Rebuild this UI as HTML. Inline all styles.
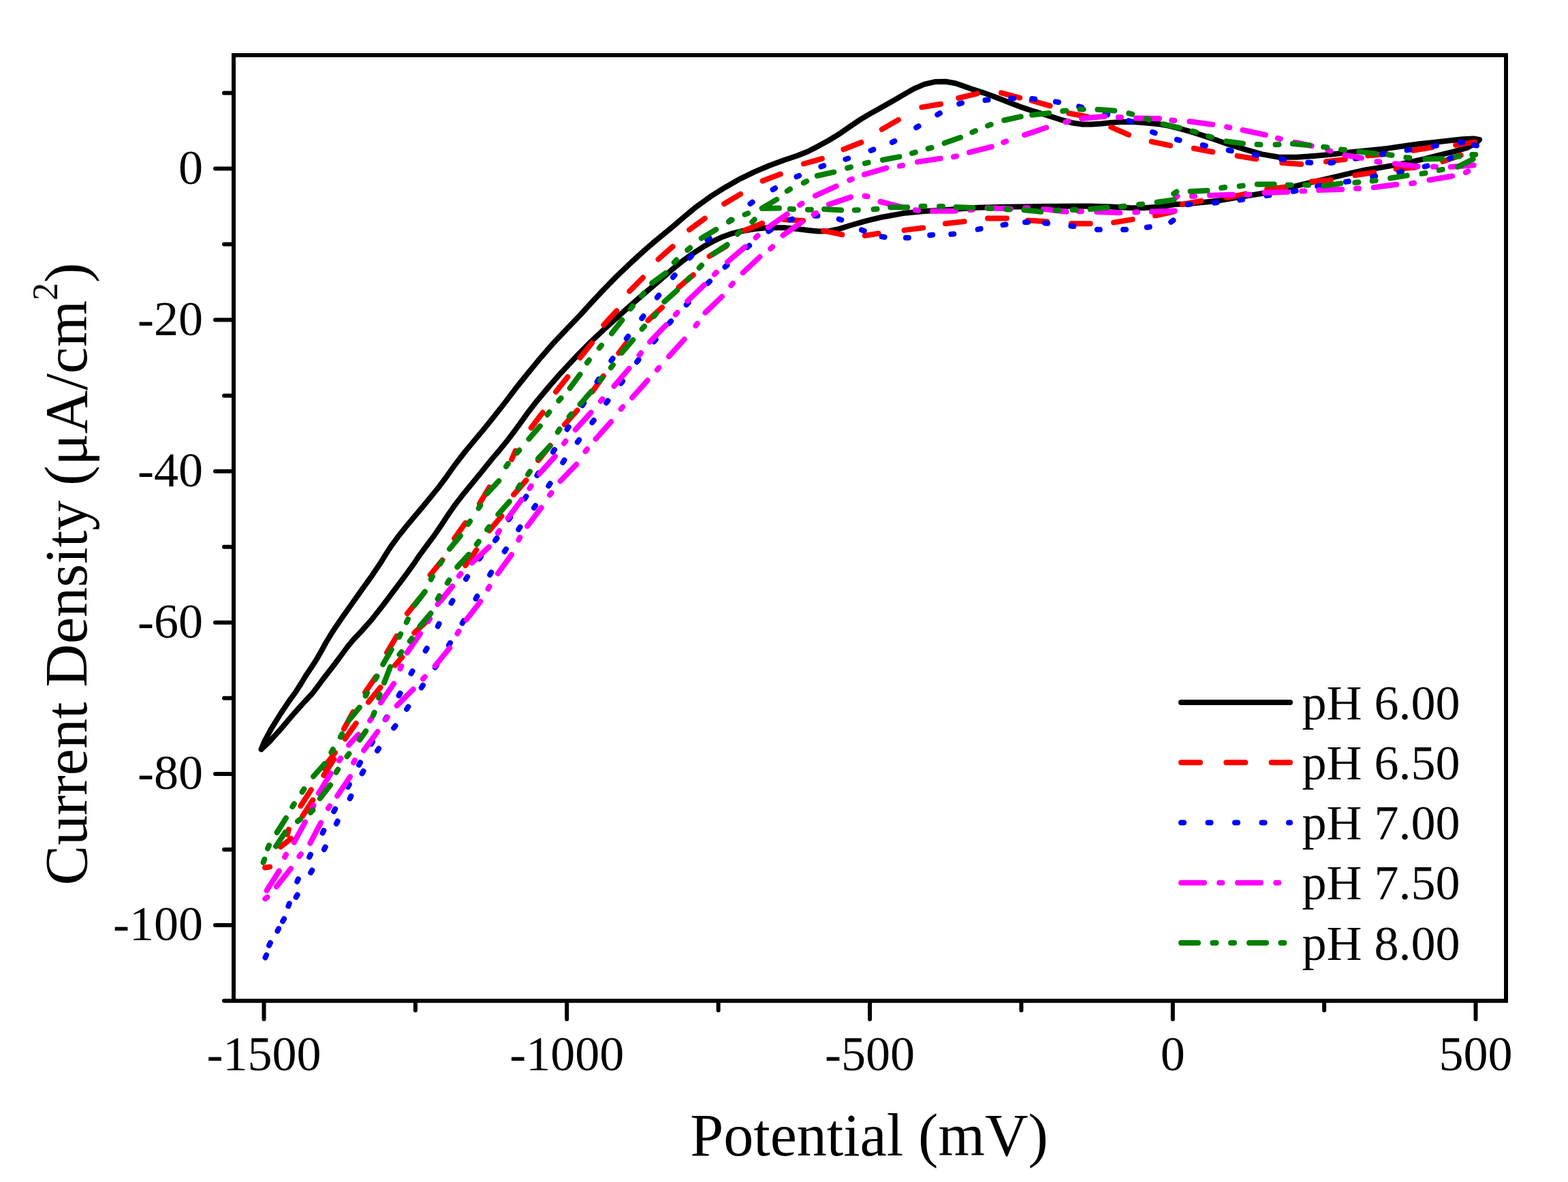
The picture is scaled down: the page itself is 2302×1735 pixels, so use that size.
<!DOCTYPE html><html><head><meta charset="utf-8"><title>Cyclic voltammograms</title>
<style>html,body{margin:0;padding:0;background:#fff;}body{width:2302px;height:1735px;overflow:hidden;}svg{display:block;}text{font-family:"Liberation Serif","Times New Roman",serif;fill:#000;}</style></head><body>
<svg width="2302" height="1735" viewBox="0 0 2302 1735">
<rect x="0" y="0" width="2302" height="1735" fill="#fff"/>
<g fill="none" stroke-width="8" stroke-linecap="round" stroke-linejoin="round">
<path d="M383.5,1099.8 L388.4,1087.9 L398.3,1069.6 L411.7,1048 L424.3,1029.2 L434.2,1015.6 L441.6,1004 L448.8,992 L456.9,980 L464.7,968 L471.5,956 L478.1,944 L485.3,932 L492.8,920.4 L502.1,906.8 L515.4,888 L530.7,866.4 L546.2,844.8 L558.5,826.6 L566.4,813.6 L574.8,800.8 L585.4,786.4 L596.9,772 L609,757.6 L621.2,743.2 L633,728.8 L644.6,714.4 L655.5,699.8 L667.2,683.2 L682.6,663.2 L698.4,644.2 L711.6,628.5 L726,610.6 L742.4,589.6 L758.8,568 L776.1,546.4 L794,524.8 L812.8,503.2 L833.5,481.6 L851.5,462.8 L866,446.8 L883.5,428 L904.5,406.4 L927.5,384.5 L947.8,366 L961.6,354.1 L974.4,343.6 L988.1,332.4 L1002.7,319.8 L1021.7,303.9 L1043.2,288.4 L1064.8,274.9 L1086.4,262.6 L1108,252.1 L1129.6,243 L1151.2,235 L1170.6,228.5 L1186.3,222.3 L1201.2,214.6 L1216.8,206 L1232.4,196.5 L1248,185.6 L1263.6,175.1 L1279.2,165.9 L1294.8,157.3 L1310.3,148.5 L1325.9,139.4 L1341.5,130.4 L1357.1,123.6 L1372.7,120.1 L1388.3,119.7 L1402.7,122.2 L1415.4,126.6 L1428.9,131.4 L1443.4,136.1 L1457.9,141.2 L1472.3,146.8 L1486.8,152.5 L1501.3,157.9 L1515.7,162.7 L1530.2,167 L1544.7,171.6 L1559.1,176.2 L1573.6,180.2 L1588.1,182.4 L1602.5,182.6 L1617,181.5 L1631.5,180 L1645.9,179 L1660.4,178.8 L1674.9,179.7 L1689.3,181.1 L1703.8,182.6 L1716.6,184.8 L1730.4,188.4 L1751.3,194.1 L1776.6,202.4 L1801.9,211.2 L1827.2,219.1 L1852.5,226.4 L1877.8,230.8 L1903.2,230.8 L1928.5,228.9 L1953.8,226.7 L1979.1,223.8 L2007,220.9 L2036.5,217.9 L2061.7,214.3 L2083.4,211.3 L2105.1,208.9 L2126.8,206.6 L2147.6,204.2 L2163.4,203.4 L2172,205 L2167,209.8 L2153.9,216.9 L2134,222.7 L2112.3,227.9 L2090.6,233.3 L2068.9,238.1 L2048.2,242.4 L2027.8,245.7 L2004.4,249.5 L1979.1,255.2 L1953.8,261.2 L1928.5,266.9 L1903.2,272.9 L1877.8,278.9 L1852.5,284 L1827.2,288.1 L1806,291.6 L1790.4,294.2 L1773.9,296.2 L1754.9,298.1 L1739.1,299.4 L1729.6,299.7 L1723.3,300.3 L1713.8,301.9 L1698,303.8 L1679,305.2 L1657.6,305 L1631.4,303.5 L1598.9,302.6 L1559.1,302.8 L1515.7,303.2 L1472.3,303.7 L1435,304.8 L1409.3,306.4 L1385.9,308.2 L1357.1,309.9 L1325.9,313.1 L1294.8,318.7 L1267.5,325.3 L1248,331 L1232.4,335.9 L1216.8,339.2 L1201.2,339.6 L1186.3,338 L1170.6,336 L1151.2,334.2 L1129.6,333.9 L1108,336.1 L1089,339.2 L1074.4,342.8 L1060.8,347.7 L1046.4,354.4 L1032,362.6 L1017.6,372 L1003.2,382.2 L988.8,393.8 L974.4,406.4 L957.5,421 L935.9,439.4 L912.1,460.4 L888.9,481.5 L866.7,502.4 L844.9,524.4 L824.4,546.4 L805.5,568 L789.1,587.6 L776.6,603.4 L766.4,617.6 L756,632 L745,646.4 L733.3,660.8 L722,674 L711,687.8 L695.7,706.6 L679,726.8 L666.5,743.2 L656.6,757.6 L647.1,772 L637.2,786.4 L626.4,800.8 L617,813.6 L608.2,826.6 L595,844.8 L578.8,866.4 L562.6,888 L545.6,909.6 L529.7,927.5 L518.5,939.3 L509.7,950 L500.9,962 L492,974 L482.7,986 L473.4,998 L465,1009.5 L457.5,1019.1 L447,1030.2 L431,1048 L412.7,1069.6 L396.1,1088 L383.5,1100" stroke="#000000"/>
<path d="M389,1273.5L396,1272.5M421.8,1225.1L423.9,1217.5M441.4,1183L456.7,1159.4M475,1127.2L491.8,1104.8M504.9,1069.9L518.3,1045.3M536,1016.3L552,993.3M568.1,957.9L582.4,933.8M598,900.6L615.6,878.7M631.7,843.8L649.4,822.2M667.1,790.4L683.3,767.6M704.1,739.3L718.3,715.2M751.2,674.3L756.8,661.7M779.8,628L796.7,605.6M816,575.2L833.4,553.3M851.5,525.2L869,503.4M886.3,476.9L905.3,456.3M924.1,427.5L943.9,407.6M966.5,380.5L987.5,361.9M1012,337.2L1034.7,320.7M1063.1,299.2L1087.1,284.9M1119.6,265.5L1145.8,255.6M1179.9,240.5L1206.8,232.9M1238.4,219.3L1264.4,209M1294.7,189.9L1318.9,175.9M1353.3,157.4L1381,152.8M1407.3,143.9L1434.6,137.3M1470,136.3L1497.1,143.5M1514.6,147.6L1541.5,155.3M1569.2,166.3L1596.8,171.4M1631.3,186.7L1657,197.9M1690.6,207.9L1718,213.6M1752.7,217.7L1780.2,223M1816.6,228.9L1844.2,233.4M1882.2,238.9L1910.2,241.1M1946.9,237.3L1974.7,233.9M2008.1,228.5L2035.9,226.1M2074.7,220.7L2102.3,216.3M2137.2,212.9L2164.9,208.6M2144.7,227.8L2118.3,237.1M2077.5,245.8L2049.5,248M2017,253.1L1989.3,257.3M1953.8,264.2L1925.9,266.4M1888,274.5L1860.1,277.7M1828.3,284.6L1800.8,290.3M1763.4,295L1735.8,299.9M1723.1,310.6L1695.8,316.5M1662.6,322.1L1635,326.6M1600.7,328.3L1572.7,328.3M1536.9,325.3L1509,323.4M1478,320.4L1450,320.4M1415.7,325.1L1387.9,328.3M1355.3,334.4L1327.5,337.9M1289.6,342.7L1269.8,345.8M1236.3,344.4L1208.9,338.7M1179,323.9L1151,322.3M1119.1,327.8L1093.2,338.2M1065.6,361.9L1041.4,376.1M1017.8,403.5L996.5,421.6M972,451.2L951.4,470.2M919.2,504.1L908.4,518.2M885.9,551.9L869.7,574.8M847.5,602.3L828.9,623.2M807.8,654.1L790.3,675.8M772.5,705L754.1,726.1M736.5,757.6L718.3,778.8M699.5,807.2L683.3,830M664.2,860.7L646.6,882.6M628.7,909.8L608.3,928.9M590.4,964.7L580,976.5M558.5,1009L540.9,1030.6M522.7,1061.8L506.5,1084.6M490.3,1114.4L475.3,1138M459.3,1174.4L444.1,1198M427.4,1230.9L411.9,1243.1" stroke="#ff0000"/>
<path d="M389.4,1405.6L391,1402M407.4,1366.7L409,1363.1M423.3,1330.1L424.7,1326.3M436.2,1294L437.8,1290.4M454.1,1258L455.9,1254.4M473.5,1222.7L475.3,1219.1M490.1,1191.1L492.1,1187.5M510.8,1155.1L512.8,1151.5M527,1122.8L529,1119.2M545,1092.1L547,1088.7M565.7,1056.1L567.7,1052.7M585.5,1021L587.5,1017.6M603.5,988.6L605.5,985.2M624.7,955.2L626.7,951.8M642.8,919.3L644.6,915.7M662.5,885.1L664.5,881.7M684,850L686.2,846.6M703.7,820.2L706.1,817M727.1,793.2L729.5,790M746.9,762.6L749.3,759.4M770.3,732.1L772.5,728.7M788.4,697.9L790.4,694.5M811.9,663.5L814.1,660.1M832.6,630.2L834.8,626.8M855.1,595.1L857.3,591.7M876.7,560.1L878.9,556.7M897.4,529.4L899.6,526.2M919.8,497L922.2,493.8M942.2,467.3L944.6,464.1M964.8,436.7L967.2,433.5M988,406.9L990.6,403.9M1012.5,378.6L1015.3,375.6M1038.5,352.4L1041.5,349.6M1070,325.3L1073,322.7M1101.4,299.1L1104.6,296.7M1134.6,278.2L1138,276.2M1169.5,259.4L1173.1,257.8M1205.4,244.6L1209.2,243.2M1241.4,233.7L1245.2,232.5M1278.5,220.9L1282.3,219.5M1309.8,208.9L1313.4,207.1M1345.1,187.3L1348.5,185.3M1376.2,168.3L1379.8,166.3M1408.2,152.4L1412,151.2M1446.5,147L1450.5,146.6M1484.1,144.6L1488.1,144.6M1515.2,145.1L1519.2,145.5M1549.9,149.4L1553.9,150M1584,156.4L1587.8,157.4M1622.3,167.1L1626.1,168.3M1657.1,177.2L1660.9,178.6M1691.8,193.8L1695.6,195.2M1727.8,204.8L1731.6,205.8M1765.7,213L1769.7,213.8M1803.7,220.6L1807.7,221.4M1841.7,227L1845.7,227.6M1880.9,233.4L1884.9,234M1920.2,238.6L1924.2,238.8M1953.1,238.9L1957.1,238.5M1989.8,232.7L1993.8,232.1M2029,226.3L2033,225.7M2065.5,220.4L2069.5,219.8M2104.9,214.3L2108.9,213.7M2143.6,208.9L2147.6,208.9M2163.9,213L2167.9,213.6M2131.5,231.3L2127.9,232.9M2095.4,243.5L2091.6,244.5M2057.9,251.9L2053.9,252.7M2019.1,258.6L2015.1,259.4M1979.8,266.3L1975.8,266.9M1938.1,272.5L1934.1,273.3M1902.6,280.1L1898.6,280.9M1863.4,286.5L1859.4,287.1M1824.2,292.9L1820.2,293.5M1786.7,297.3L1782.7,297.7M1747.4,299.8L1743.4,300.2M1722.4,323.5L1719.2,325.9M1687.7,333.1L1683.7,333.7M1653,336.9L1649,337.1M1614.7,337.1L1610.7,336.9M1576.3,332.1L1572.3,331.7M1538,327.8L1534,327.4M1509,326L1505,326.2M1476.5,329.5L1472.5,330.1M1439.6,335.9L1435.6,336.7M1400.3,343.4L1396.3,343.8M1369.2,344.8L1365.2,345.2M1333.9,348.9L1329.9,349.1M1298.6,348L1294.6,347.4M1268.7,338.9L1264.9,337.5M1235.3,322.8L1231.5,321.6M1200.3,316.8L1196.3,316.8M1163.3,321.6L1159.5,322.8M1131.7,337.3L1128.3,339.5M1100.1,360.5L1096.9,363.1M1067.5,389.2L1064.5,391.8M1042,413L1039.2,415.8M1010.5,444.5L1007.7,447.3M985.2,471.4L982.6,474.4M962.7,498.4L960.1,501.4M937.5,528L935.1,531.2M914.1,559.5L911.7,562.7M892.5,588.2L890.1,591.4M871.8,617L869.4,620.2M850.2,645.8L847.8,649M828.5,675.4L826.3,678.8M807.6,709.8L805.4,713.2M786.1,742.3L783.9,745.5M763.5,773.7L761.3,777.1M742.9,806.1L740.7,809.5M721.2,840.3L719.2,843.7M700.5,875.3L698.5,878.7M680.7,911.3L678.7,914.7M660.9,943.7L658.9,947.1M641.1,976.3L638.9,979.7M620.9,1005.9L618.7,1009.3M599.3,1037.4L597.1,1040.8M580.5,1065.4L578.1,1068.6M556.1,1098.7L553.9,1101.9M533.5,1131.9L531.5,1135.3M515.4,1168.6L513.6,1172.2M495.6,1205.5L493.8,1209.1M477.6,1243.3L475.8,1246.9M458.2,1277.5L456.2,1280.9M436.6,1313.5L434.6,1316.9M417.1,1348.8L415.1,1352.2M396.9,1384L395.1,1387.6" stroke="#0000ff"/>
<path d="M391.6,1307.2L409.7,1278.5M418.1,1258L419.9,1254.4M431.7,1236.5L448,1206.7M458.8,1185.8L460.4,1182.2M467.8,1164.3L485.6,1135.3M498.1,1116.4L500.3,1113M512,1093.6L526,1078.2M543.1,1057.8L545.3,1054.6M558.9,1031.5L578.1,1003.5M587.5,981.6L589.1,977.8M597.6,958.1L617,930.1M629,911.7L631,908.3M642.5,887.1L663.8,860.7M673.9,845.3L676.5,842.3M692.9,826.1L717.8,803M730.8,782.5L733,779.1M745.6,760.7L765.8,733.4M777.5,716.8L779.7,713.4M792,695.2L814.9,670M828,650.8L830.4,647.6M844.8,630.8L867.6,605.5M881.9,588.7L884.5,585.7M901.4,566.8L923.5,541M938.6,521.3L941,518.1M954.1,501.8L977.7,477.3M991.7,461.8L994.3,458.8M1009.3,441.9L1033.8,418.3M1048.9,402.7L1051.7,399.9M1068,384.5L1093.9,362.4M1109.5,348.7L1112.5,346.1M1127.8,333.8L1155.6,314.2M1174.1,300.8L1177.5,298.6M1196.8,287.4L1227.7,273.3M1247.2,264.4L1250.8,262.8M1268.8,256.2L1301.4,246.6M1321,243.6L1325,242.8M1347,237.6L1380.6,232.6M1400,230.1L1404,229.3M1423,223.7L1455.9,215.3M1473.3,208.9L1477.1,207.5M1504,198.1L1536.2,187.3M1564.5,179.1L1568.3,178.1M1588.1,174.1L1622,170.7M1641.8,172L1645.8,172.2M1668,173.6L1701.9,174.1M1720.2,176.5L1724.2,176.9M1746.4,178.3L1780.2,182.7M1801.2,186.4L1805.2,187.2M1824.5,190.8L1857.8,198M1875.9,202.8L1879.7,203.8M1901,209L1925.6,214.1M1949.4,220.4L1953.2,221.6M1974.5,227.8L1998.9,231.9M2021.4,237.2L2025.4,237.8M2047.7,240.2L2081.5,244.2M2103.8,244.7L2107.8,244.7M2129.7,244.9L2163.7,242.4M2155.4,251.4L2151.8,253.2M2132,258.5L2098.4,264.2M2076,268.7L2072,269.3M2050.4,270.7L2016.7,275.1M1995,276.6L1991,276.8M1970.1,278.1L1936.2,279.1M1915.3,280.4L1911.3,280.6M1890.4,281.8L1856.4,283M1834.3,285.5L1830.3,285.7M1810,285.7L1776,286.7M1753.8,287.9L1749.8,288.1M1728.6,287.9L1725.6,290.5M1724.7,309.5L1690.8,310.8M1670.2,311.3L1666.2,311.5M1644.1,312.3L1610.2,311.1M1587.9,310.2L1583.9,310.2M1565.5,310.7L1531.8,306.9M1509,305.2L1505,305.2M1483.5,306.5L1449.6,305.3M1428,307.8L1424,308.2M1403,309.7L1369,309.7M1348,308.8L1344,308.2M1325.3,304.4L1292.4,296M1273.5,288.3L1269.5,287.7M1249,289.4L1216.8,300.1M1198,312.7L1194.6,314.9M1177.1,325.9L1149.4,345.5M1134.2,362.2L1131.2,365M1115.4,377.1L1090.6,400.3M1075.9,416L1073.3,419M1059.9,435.4L1035.4,459M1023.8,474.9L1021.4,478.1M1004.7,498.1L982,523.3M967.3,539.8L964.7,542.8M950.7,558.3L928.1,583.7M914.2,597.3L911.6,600.3M897.2,619L874.6,644.3M861.9,659.3L859.5,662.5M846.2,681.7L822.6,706.2M809.5,723.4L807.1,726.6M794.7,745.2L774.2,772.3M763.4,788.9L761.4,792.5M750.9,814.3L730.9,841.8M718.5,861L716.5,864.4M705.4,882.9L684.6,909.8M673.5,926.6L671.5,930M660.1,951.2L638.7,977.6M623.8,993.5L621,996.5M606.6,1011.8L582.6,1035.8M568.8,1052.8L566.4,1056M554.3,1074L534.1,1101.4M520.9,1115.8L519.1,1119.4M514,1140.1L495.2,1168.3M484.1,1183.1L481.9,1186.5M471.1,1207.6L455.3,1237.6M441.8,1253.8L439.4,1257M427,1274.9L405.9,1301.5M392.5,1316.9L389.3,1319.3" stroke="#ff00ff"/>
<path d="M386.5,1265.9L388.3,1261.3M393,1245.5L395,1240.9M406.5,1222L419.9,1200.8M429.3,1184.1L431.9,1179.9M443.6,1162.5L446.4,1158.3M460.1,1139.7L476.7,1121.1M486.4,1104.4L488.8,1100M499.8,1081.8L502.2,1077.4M512,1057.8L527.8,1038.4M536.7,1021.5L539.1,1017.1M551.1,997.2L553.5,992.8M562.2,975.2L574.8,953.6M585.8,935L588.2,930.6M596.7,913.5L598.9,908.9M608.7,888.3L623.8,868.5M632.6,850.5L635,846.1M646,827.9L648.6,823.7M660.1,805.8L675.9,786.4M687.3,769.4L690.1,765.2M702.7,746L705.3,741.8M715.3,724.3L732.3,705.9M743.1,684.8L745.9,680.6M759.2,664.6L762.4,660.8M776.5,644.3L792.8,625.4M803.4,608.9L806.4,604.9M820.4,588.2L823.6,584.4M836.6,569.8L851.5,549.7M861.9,532.5L864.9,528.5M879.8,510.8L883,507M898,489.5L913.4,469.8M925.7,453.3L928.9,449.3M941.8,434.3L945,430.5M957.1,415.4L977.4,400.8M989.7,385.2L993.1,381.6M1009.3,367.1L1013.1,363.7M1029.7,349.7L1051.2,337M1070.2,325.1L1074.6,322.9M1093.5,314.9L1098.1,313.1M1118.6,305.6L1140.2,292.9M1155.7,280.3L1159.9,277.7M1179.8,268.4L1184.2,266.2M1199.8,258L1224.2,252.7M1244.1,246.7L1248.9,245.3M1269.8,239.8L1274.6,238.6M1295.9,234.7L1320.4,230.1M1339,225L1343.8,223.6M1362.7,218.2L1367.5,216.8M1386.6,210.1L1410.1,201.8M1427.4,194.1L1432,192.1M1450.1,184.6L1454.7,182.8M1474.2,176.5L1498.7,171.2M1515.2,168.8L1540.1,166M1560.2,163L1565.2,162.4M1585.6,160.6L1590.6,160.4M1611.4,160.7L1636.3,162.5M1657.3,166.4L1662.1,167.6M1682.6,174.2L1687.4,175.8M1707.4,182.2L1731.8,187.7M1750.8,192.5L1755.6,193.9M1774.1,200.1L1778.9,201.5M1800.3,207.4L1825,210.6M1845.5,212.1L1850.5,212.3M1872.5,212.3L1877.5,212.1M1897.7,211.1L1922.6,213.2M1943.1,215.7L1948.1,216.3M1969,219.4L1974,220M1995.2,222.6L2020,225.8M2038.5,227.2L2043.5,227.8M2064.3,231.1L2069.3,231.7M2092.3,233.4L2117.2,232.9M2137.3,230.2L2142.3,229.6M2161.2,227.1L2166.2,226.9M2162.6,233.7L2140.2,244.9M2117.7,248.9L2112.7,249.9M2092.4,254.1L2087.4,254.9M2065.7,257.6L2041.1,261.5M2019.6,265L2014.6,265.6M1994.3,267.6L1989.3,268M1968.1,269.4L1943.3,272.6M1920.9,271.7L1915.9,271.5M1895.5,271.7L1890.5,271.5M1870.8,270.4L1845.8,270.4M1824.7,272.6L1819.7,273.2M1798.1,275L1793.1,275.8M1772.5,279.8L1747.5,280.9M1727.3,281.5L1723.1,284.3M1723.3,293.4L1698.6,296.8M1677.1,299.7L1672.1,300.3M1650.6,302.8L1645.6,303.2M1625.4,304.6L1600.6,307.1M1579.7,307.9L1574.7,308.1M1554.4,308.6L1549.4,309M1528.2,310.8L1503.3,308.2M1482.1,307.4L1477.1,307.2M1456,306L1451,305.8M1428.4,305L1403.4,303.9M1384,302.9L1379,302.9M1357.5,302.8L1352.5,303M1332.2,304.3L1307.2,304.3M1287.5,306.8L1282.5,307.2M1259.8,308.2L1254.8,308.4M1235,308.6L1210,307.1M1190.9,307.8L1185.9,307.8M1164.8,307L1159.8,306.8M1143.9,305.6L1118.9,306M1107.7,322.2L1104.3,325.8M1086.3,340.3L1082.7,343.7M1067.5,359.3L1046.7,373.2M1030,389.6L1026.6,393.2M1012.5,407.6L1009.1,411.2M994,426.3L975.3,442.9M963.3,460.3L960.1,464.3M946,479.1L942.6,482.9M929.2,499L912.8,517.9M900,535.7L897,539.7M883.9,554.7L880.7,558.5M868,574.6L851.6,593.5M838.9,607.7L835.7,611.5M821.6,630L818.8,634.2M807.2,655L790,673.1M777.9,692.2L775.1,696.4M763.4,711.9L760.6,716.1M747.8,736.3L731.3,755.1M718,773.4L715.2,777.4M702.8,795L699.8,799M688.1,813.9L671.3,832.3M659.4,851.6L656.8,855.8M644.9,874.8L642.5,879.2M632.4,900.3L616.3,919.4M604.7,937.1L601.7,941.1M589.4,956.9L586.4,960.9M573,978.8L564,1002.2M557.6,1019.6L556,1024.4M549.6,1045.8L547.8,1050.4M537.1,1073.1L527.9,1086.1M512.4,1106.4L509.4,1110.4M496.1,1129.4L493.5,1133.8M485,1152.3L469.8,1172.1M459.3,1189.2L455.9,1192.8M441,1202.5L437,1205.5M418.9,1221.4L405.1,1242.2" stroke="#008000"/>
</g>
<g stroke="#000" stroke-width="6" fill="none">
<rect x="343" y="81" width="1868" height="1388" stroke-linejoin="miter"/>
</g><g stroke="#000" stroke-width="6" stroke-linecap="round">
<line x1="340" y1="247.6" x2="316" y2="247.6"/>
<line x1="340" y1="469.6" x2="316" y2="469.6"/>
<line x1="340" y1="691.7" x2="316" y2="691.7"/>
<line x1="340" y1="913.8" x2="316" y2="913.8"/>
<line x1="340" y1="1135.9" x2="316" y2="1135.9"/>
<line x1="340" y1="1358.0" x2="316" y2="1358.0"/>
<line x1="340" y1="136.5" x2="329" y2="136.5"/>
<line x1="340" y1="358.6" x2="329" y2="358.6"/>
<line x1="340" y1="580.7" x2="329" y2="580.7"/>
<line x1="340" y1="802.8" x2="329" y2="802.8"/>
<line x1="340" y1="1024.8" x2="329" y2="1024.8"/>
<line x1="340" y1="1246.9" x2="329" y2="1246.9"/>
<line x1="340" y1="1469.0" x2="329" y2="1469.0"/>
<line x1="387.5" y1="1472" x2="387.5" y2="1496"/>
<line x1="832.2" y1="1472" x2="832.2" y2="1496"/>
<line x1="1277.0" y1="1472" x2="1277.0" y2="1496"/>
<line x1="1721.8" y1="1472" x2="1721.8" y2="1496"/>
<line x1="2166.5" y1="1472" x2="2166.5" y2="1496"/>
<line x1="609.9" y1="1472" x2="609.9" y2="1483"/>
<line x1="1054.6" y1="1472" x2="1054.6" y2="1483"/>
<line x1="1499.4" y1="1472" x2="1499.4" y2="1483"/>
<line x1="1944.1" y1="1472" x2="1944.1" y2="1483"/>
</g>
<g font-size="72">
<text x="298" y="269.6" text-anchor="end">0</text>
<text x="298" y="491.6" text-anchor="end">-20</text>
<text x="298" y="713.7" text-anchor="end">-40</text>
<text x="298" y="935.8" text-anchor="end">-60</text>
<text x="298" y="1157.9" text-anchor="end">-80</text>
<text x="298" y="1380.0" text-anchor="end">-100</text>
<text x="387.5" y="1571" text-anchor="middle">-1500</text>
<text x="832.2" y="1571" text-anchor="middle">-1000</text>
<text x="1277.0" y="1571" text-anchor="middle">-500</text>
<text x="1721.8" y="1571" text-anchor="middle">0</text>
<text x="2166.5" y="1571" text-anchor="middle">500</text>
</g>
<text x="1276.0" y="1696.0" font-size="88" text-anchor="middle">Potential (mV)</text>
<text transform="translate(126.5,842.5) rotate(-90)" font-size="88" text-anchor="middle">Current Density (μA/cm<tspan dy="-43" font-size="52">2</tspan><tspan dy="43">)</tspan></text>
<g fill="none" stroke-width="8" stroke-linecap="round">
<line x1="1734" y1="1031.0" x2="1894" y2="1031.0" stroke="#000000"/>
<line x1="1734" y1="1119.2" x2="1894" y2="1119.2" stroke="#ff0000" stroke-dasharray="28 38.3"/>
<line x1="1734" y1="1207.5" x2="1894" y2="1207.5" stroke="#0000ff" stroke-dasharray="4 35.5"/>
<line x1="1734" y1="1295.8" x2="1894" y2="1295.8" stroke="#ff00ff" stroke-dasharray="34 22.2 4 22.8"/>
<line x1="1734" y1="1384.0" x2="1894" y2="1384.0" stroke="#008000" stroke-dasharray="25 21.4 5 21.6 5 22"/>
</g><g font-size="72">
<text x="1911.5" y="1055.5">pH 6.00</text>
<text x="1911.5" y="1143.8">pH 6.50</text>
<text x="1911.5" y="1232.0">pH 7.00</text>
<text x="1911.5" y="1320.2">pH 7.50</text>
<text x="1911.5" y="1408.5">pH 8.00</text>
</g>
</svg></body></html>
